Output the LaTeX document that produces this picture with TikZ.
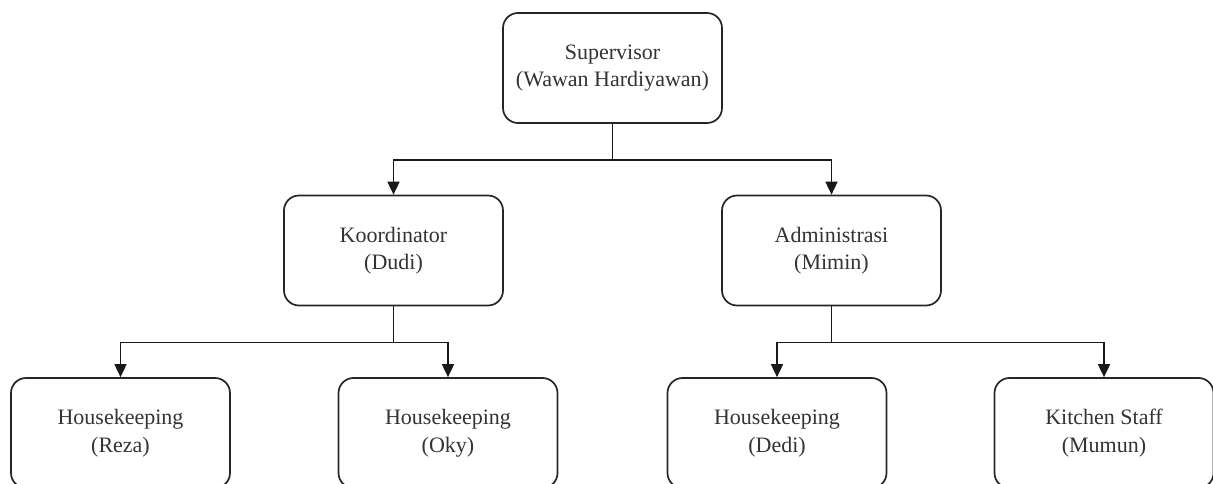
\documentclass[tikz,border=0pt]{standalone}
\usepackage{fontspec}
\setmainfont{Liberation Serif}
\usetikzlibrary{arrows.meta}
\tikzset{
  orgbox/.style={draw=black!85, line width=1.7pt, rounded corners=15pt, fill=white,
    minimum width=219pt, minimum height=110pt, align=center, inner sep=0pt,
    font=\fontsize{22}{27.5}\selectfont, text=black!80},
  conn/.style={line width=1.7pt, draw=black!90, -{Triangle[length=13pt,width=12pt]}}
}
\begin{document}
\begin{tikzpicture}[x=1pt,y=-1pt]
\useasboundingbox (0,0) rectangle (1213,484);
\clip (0,0) rectangle (1213,484);
\node[orgbox] (sup) at (612.5,68) {Supervisor\\(Wawan Hardiyawan)};
\node[orgbox] (koord) at (393.5,250.5) {Koordinator\\(Dudi)};
\node[orgbox] (admin) at (831.5,250.5) {Administrasi\\(Mimin)};
\node[orgbox] (reza) at (120.5,433) {Housekeeping\\(Reza)};
\node[orgbox] (oky) at (448,433) {Housekeeping\\(Oky)};
\node[orgbox] (dedi) at (777,433) {Housekeeping\\(Dedi)};
\node[orgbox] (kitchen) at (1104,433) {Kitchen Staff\\(Mumun)};
\draw[conn] (sup.south) -- ++(0,36) -| (koord.north);
\draw[conn] (sup.south) -- ++(0,36) -| (admin.north);
\draw[conn] (koord.south) -- ++(0,36) -| (reza.north);
\draw[conn] (koord.south) -- ++(0,36) -| (oky.north);
\draw[conn] (admin.south) -- ++(0,36) -| (dedi.north);
\draw[conn] (admin.south) -- ++(0,36) -| (kitchen.north);
\end{tikzpicture}
\end{document}
